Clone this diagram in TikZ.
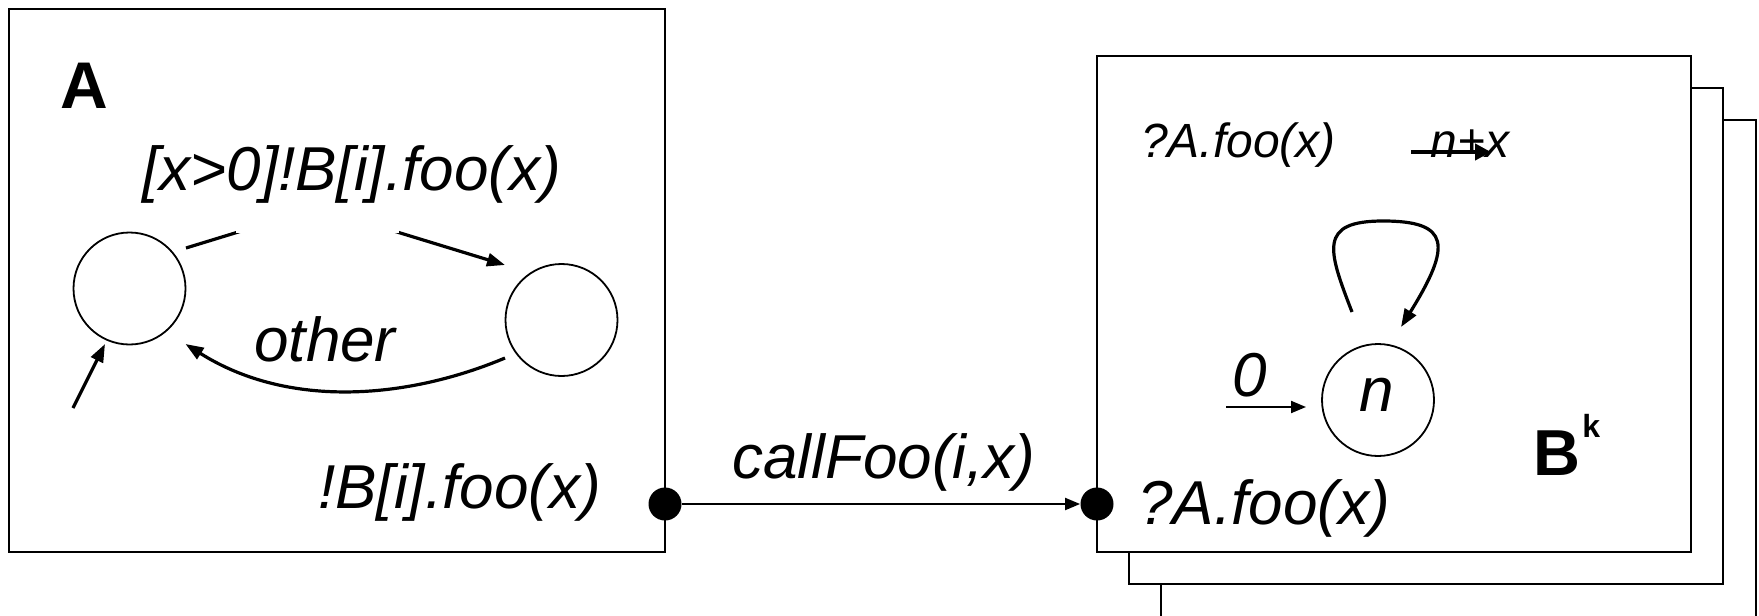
\documentclass[tikz,border=0pt]{standalone}
\usepackage{fontspec}
\setmainfont{Liberation Sans}
\usetikzlibrary{arrows.meta}
\begin{document}
\begin{tikzpicture}[x=0.5pt,y=-0.5pt,
  box/.style={draw, line width=1pt, fill=white},
  state/.style={draw, circle, line width=0.9pt, minimum size=56pt, inner sep=0pt},
  dot/.style={circle, fill, inner sep=0pt, minimum size=16.5pt},
  lbl/.style={anchor=base, inner sep=0pt, font=\fontsize{31}{37}\selectfont\itshape},
  slbl/.style={anchor=base, inner sep=0pt, font=\fontsize{24}{29}\selectfont\itshape},
  ttl/.style={anchor=base, inner sep=0pt, font=\fontsize{33}{39}\selectfont\bfseries},
  arr/.style={line width=1.6pt, -{Triangle[length=9pt,width=6.5pt]}},
  thinarr/.style={line width=1pt, -{Triangle[length=7.5pt,width=6pt]}},
]
\useasboundingbox (0,0) rectangle (1759,615);
\clip (0,0) rectangle (1759,615);

% ---- process A ----
\draw[box] (9,9) rectangle (665,552);
\node[ttl] (tA) at (84.5,108) {A};
\node[state] (lc) at (129.5,288.5) {};
\node[state] (rc) at (561.5,320) {};

\draw[arr, rounded corners=12pt] ([shift={(56.5,-40.5)}]lc.center) -- (317.6,207.7) -- ([shift={(-56.5,-55)}]rc.center);
\fill[white] (236.3,203) rectangle (399.1,232.6);
\node[lbl] (g1) at (351.5,190) {[x>0]!B[i].foo(x)};

\draw[arr] ([shift={(-56.5,38)}]rc.center) .. controls (410,398) and (290,410) .. ([shift={(56,55.5)}]lc.center);
\node[lbl] (ot) at (325,361) {other};

\coordinate (ia) at (73,408);
\draw[arr] (ia) -- ([shift={(-24.5,55.5)}]lc.center);

\node[lbl] (sA) at (459.5,508) {!B[i].foo(x)};

% ---- processes B ----
\draw[box] (1161,120) rectangle (1756,660);
\draw[box] (1129,88) rectangle (1723,584);
\draw[box] (1097,56) rectangle (1691,552);

\node[slbl] (q1) at (1238.5,157) {?A.foo(x)};
\node[slbl] (nx) at (1470,157) {n+x};
\coordinate (ua) at (1411,152);
\coordinate (ub) at (1491,152);
\draw[line width=2pt, -{Triangle[length=8pt,width=8pt]}] (ua) -- (ub);

\node[state] (nc) at (1378,400) {};
\node[lbl] (nt) at (1377,411) {n};
\node[lbl] (zt) at (1250,396) {0};
\coordinate (ib) at (1226,407);
\draw[thinarr] (ib) -- ([shift={(-72,7)}]nc.center);

\draw[arr] ([shift={(-26,-88)}]nc.center) .. controls (1328,250) and (1318,221) .. (1383,221) .. controls (1450,221) and (1452,245) .. ([shift={(23,-73)}]nc.center);

\node[ttl, font=\fontsize{32.5}{38}\selectfont\bfseries] (tB) at (1557,475) {B};
\node[anchor=base west, inner sep=0pt, font=\fontsize{16}{19}\selectfont\bfseries] (tk) at (1582,437) {k};

\node[lbl] (q2) at (1264,524) {?A.foo(x)};

% ---- channel ----
\node[dot] (d1) at (665,504) {};
\node[dot] (d2) at (1097,504) {};
\draw[thinarr] (d1) -- (d2);
\node[lbl] (cf) at (884,478) {callFoo(i,x)};
\end{tikzpicture}
\end{document}
